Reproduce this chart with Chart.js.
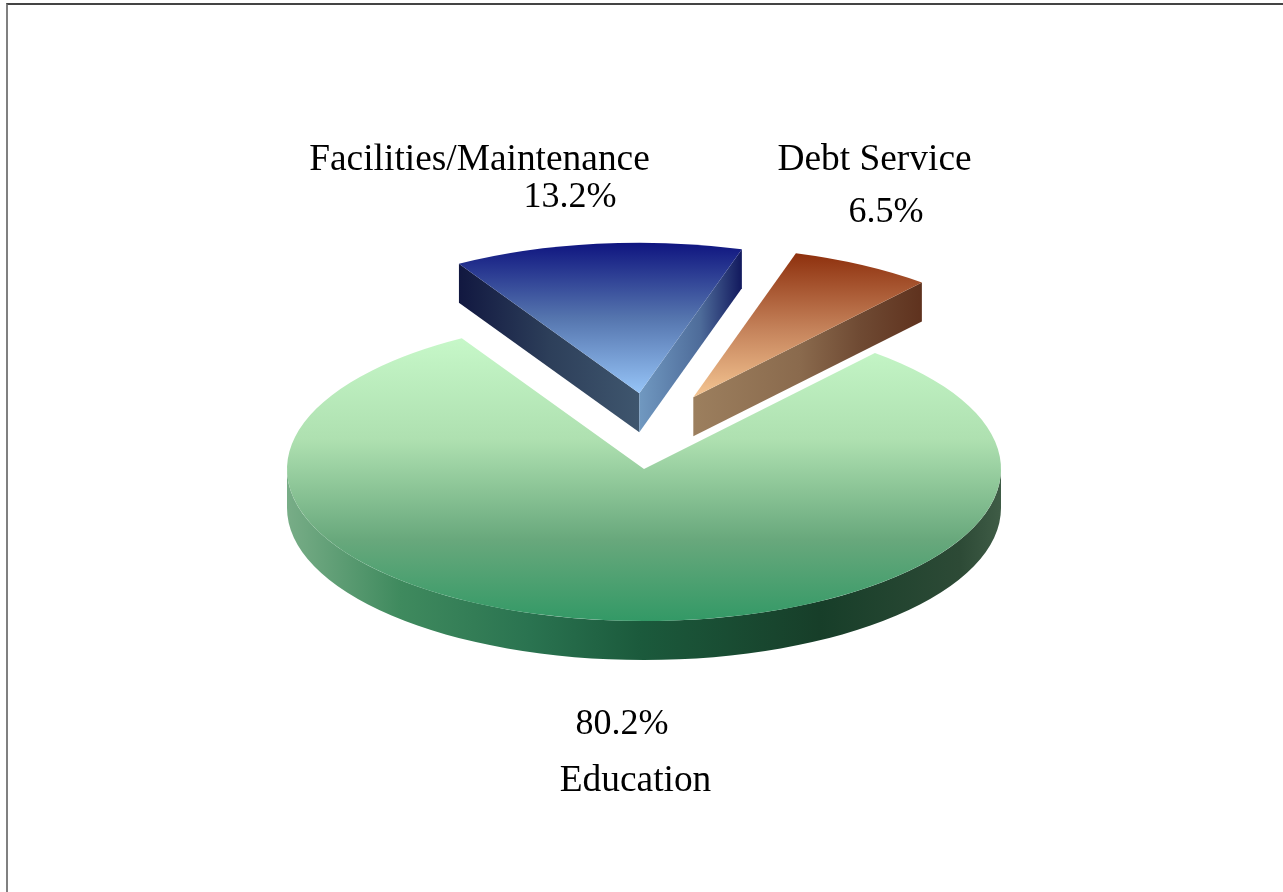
<!DOCTYPE html>
<html>
<head>
<meta charset="utf-8">
<title>Budget pie</title>
<script src="https://cdn.jsdelivr.net/npm/chart.js@4"></script>
<style>
  html, body { margin: 0; background: #fff; overflow: hidden; }
  #wrap { position: relative; width: 1283px; height: 892px; }
  #frame { position: absolute; left: 6px; top: 3px; right: 0; bottom: 0; border-left: 2px solid #808080; border-top: 2px solid #444; }
  #myChart { position: absolute; left: 0; top: 0; }
</style>
</head>
<body>
<div id="wrap">
  <div id="frame"></div>
  <canvas id="myChart" width="1283" height="892"></canvas>
</div>
<script>
var categories = ["Education", "Facilities/Maintenance", "Debt Service"];
var shares = [80.2, 13.2, 6.5];

// look of the fake 3d pie
var squash = 0.426;
var depth = 39;
var explodeX = [0, -4.7, 49.3];
var explodeY = [0, -75.7, -71.7];
var radiusScale = [1, 0.99, 0.99];

// [y, colour] down the top face
var topStops = [
  [[340, "#c6f7c8"], [440, "#aee0b0"], [540, "#68a87c"], [621, "#339966"]],
  [[243, "#0f1580"], [318, "#5575ae"], [393, "#96c4f7"]],
  [[253, "#8e300d"], [330, "#c5835b"], [397, "#f4c592"]]
];
// [x, colour] across the outer wall of Education
var wallStops = [[287, "#78ad87"], [400, "#3f8a5e"], [530, "#2a7350"], [640, "#1b5a3c"], [820, "#173e29"], [960, "#2d4a36"], [1001, "#3f5c46"]];
// [x, colour] across the cut faces, start edge then end edge
var startCutStops = [null, [[455, "#10163f"], [550, "#2d3f5a"], [640, "#3f566e"]], null];
var endCutStops = [
  null,
  [[640, "#7098c0"], [700, "#4e6c9a"], [740, "#141c60"]],
  [[693, "#9c7f5e"], [800, "#8a6a4d"], [860, "#6f4a33"], [922, "#5f321e"]]
];

var nameFont = "37.4px 'Liberation Serif'";
var pctFont = "36px 'Liberation Serif'";
var labelSpots = [
  {text: categories[1], x: 479.5, y: 170, font: nameFont},
  {text: shares[1] + "%", x: 570, y: 207, font: pctFont},
  {text: categories[2], x: 874.5, y: 170, font: nameFont},
  {text: shares[2] + "%", x: 886, y: 222, font: pctFont},
  {text: shares[0] + "%", x: 622, y: 734, font: pctFont},
  {text: categories[0], x: 635.5, y: 791, font: nameFont}
];

function grad(ctx, stops, horizontal) {
  var a = stops[0][0], b = stops[stops.length - 1][0];
  var g = horizontal ? ctx.createLinearGradient(a, 0, b, 0) : ctx.createLinearGradient(0, a, 0, b);
  stops.forEach(function (s) { g.addColorStop((s[0] - a) / (b - a), s[1]); });
  return g;
}

// side wall from an outer corner back to the tip
function cutFace(ctx, cx, cy, px, py, stops) {
  ctx.beginPath();
  ctx.moveTo(px, py);
  ctx.lineTo(cx, cy);
  ctx.lineTo(cx, cy + depth);
  ctx.lineTo(px, py + depth);
  ctx.closePath();
  ctx.fillStyle = grad(ctx, stops, true);
  ctx.fill();
}

var pie3d = {
  id: "pie3d",
  beforeDatasetsDraw: function (chart) {
    var ctx = chart.ctx;
    var arcs = chart.getDatasetMeta(0).data;

    arcs.forEach(function (arc, i) {
      var cx = arc.x + explodeX[i], cy = arc.y + explodeY[i];
      var rx = arc.outerRadius * radiusScale[i], ry = rx * squash;
      var a0 = arc.startAngle, a1 = arc.endAngle;
      ctx.save();

      // outer wall, only Education shows it
      if (i == 0) {
        ctx.beginPath();
        ctx.ellipse(cx, cy, rx, ry, 0, 0, Math.PI);
        ctx.ellipse(cx, cy + depth, rx, ry, 0, Math.PI, 0, true);
        ctx.closePath();
        ctx.fillStyle = grad(ctx, wallStops, true);
        ctx.fill();
      }

      if (startCutStops[i]) {
        cutFace(ctx, cx, cy, cx + rx * Math.cos(a0), cy + ry * Math.sin(a0), startCutStops[i]);
      }
      if (endCutStops[i]) {
        cutFace(ctx, cx, cy, cx + rx * Math.cos(a1), cy + ry * Math.sin(a1), endCutStops[i]);
      }

      // top face
      ctx.beginPath();
      ctx.moveTo(cx, cy);
      ctx.ellipse(cx, cy, rx, ry, 0, a0, a1);
      ctx.closePath();
      ctx.fillStyle = grad(ctx, topStops[i], false);
      ctx.fill();
      ctx.restore();
    });
    return false;
  },
  afterDraw: function (chart) {
    var ctx = chart.ctx;
    ctx.save();
    ctx.fillStyle = "#000";
    ctx.textAlign = "center";
    ctx.textBaseline = "alphabetic";
    labelSpots.forEach(function (l) {
      ctx.font = l.font;
      ctx.fillText(l.text, l.x, l.y);
    });
    ctx.restore();
  }
};

new Chart("myChart", {
  type: "pie",
  data: {
    labels: categories,
    datasets: [{
      data: shares,
      backgroundColor: ["#339966", "#3366cc", "#c5835b"],
      borderWidth: 0
    }]
  },
  options: {
    responsive: false,
    animation: false,
    devicePixelRatio: 1,
    rotation: 40.3,
    radius: 357,
    layout: {padding: {left: 5, top: 46}},
    plugins: {legend: {display: false}, tooltip: {enabled: false}}
  },
  plugins: [pie3d]
});
</script>
</body>
</html>
